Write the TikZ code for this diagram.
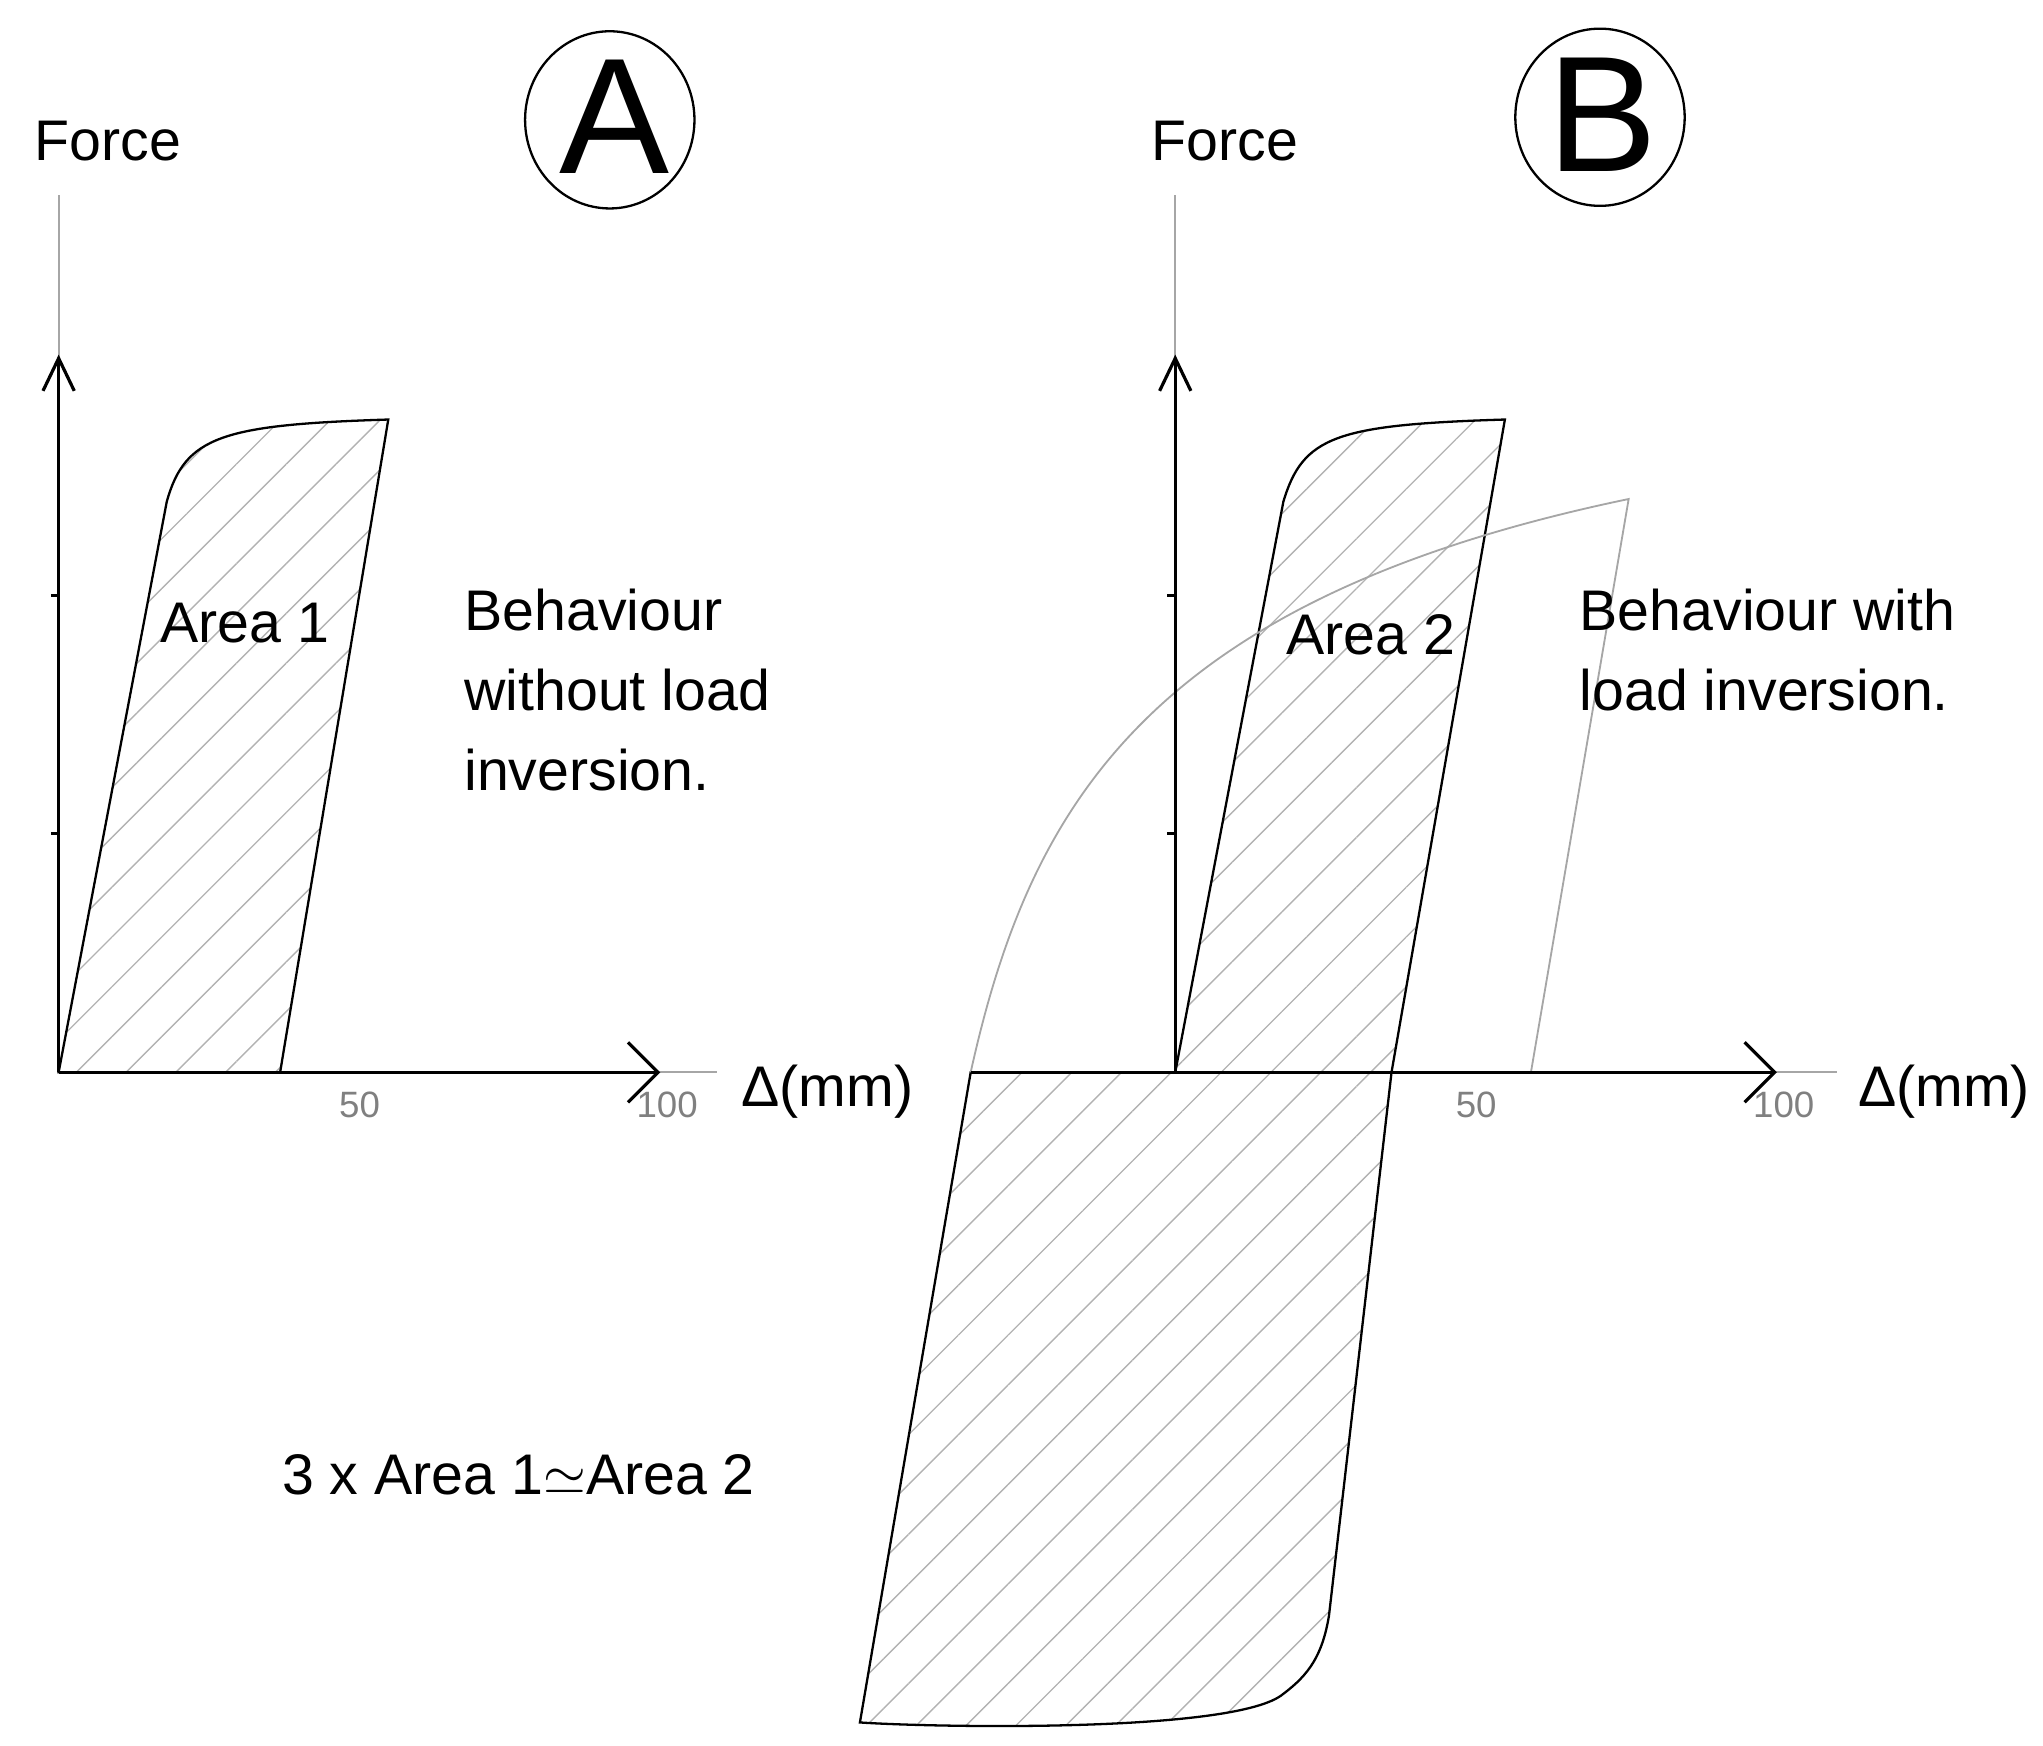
\documentclass[tikz,border=0pt]{standalone}
\usepackage{fontspec}
\setmainfont{Liberation Sans}
\usetikzlibrary{patterns.meta}
\begin{document}
\begin{tikzpicture}[x=0.01cm,y=-0.01cm,
  ax/.style={line width=0.7pt,black},
  thin gray/.style={line width=0.4pt,gray!70},
  hatch/.style={draw=black,line width=0.5pt,pattern={Lines[angle=45,distance=0.27cm,line width=0.3pt]},pattern color=gray!60},
  lbl/.style={font=\fontsize{12.5}{17.4}\selectfont},
  num/.style={font=\fontsize{8}{10}\selectfont,text=gray}]
\useasboundingbox (0,0) rectangle (1568,1340);
% ---------- Panel A ----------
\path[hatch] (45,823) -- (128,385) .. controls (142,335) and (170,326) .. (298,322) -- (215,823) -- cycle;
\draw[thin gray] (45,150) -- (45,275);
\draw[thin gray] (505,823) -- (550,823);
\coordinate (oA) at (45,823);
\coordinate (yA) at (45,275);
\coordinate (xA) at (505,823);
\draw[ax] (oA) -- (yA);
\draw[ax] (oA) -- (xA);
\draw[ax] (33,300) -- (yA) -- (57,300);
\draw[ax] (482,800) -- (xA) -- (482,846);
\draw[ax] (39,457) -- (45,457) (39,640) -- (45,640);
\node[num] (a50) at (276,848) {50};
\node[num] (a100) at (512,848) {100};
\node[lbl] (dA) at (635,838) {Δ(mm)};
\node[lbl] (fA) at (83,108) {Force};
\draw[line width=0.5pt] (468,92) ellipse (65 and 68);
\node[font=\fontsize{36}{38}\selectfont] (A) at (472,90) {A};
\node[lbl] (ar1) at (188,478) {Area 1};
\node[lbl,anchor=north west,align=left] (tA) at (344,440) {Behaviour\\without load\\inversion.};
% ---------- Panel B ----------
\path[hatch] (745,823) -- (660,1322) .. controls (720,1326) and (950,1330) .. (985,1300) .. controls (1005,1285) and (1015,1270) .. (1020,1240) -- (1068,823) -- cycle;
\path[hatch] (902,823) -- (985,385) .. controls (1000,335) and (1025,326) .. (1155,322) -- (1068,823) -- cycle;
\draw[thin gray] (745,823) .. controls (790,620) and (880,460) .. (1250,383) -- (1175,823);
\draw[thin gray] (902,150) -- (902,275);
\draw[thin gray] (1362,823) -- (1410,823);
\coordinate (oB) at (902,823);
\coordinate (yB) at (902,275);
\coordinate (xB) at (1362,823);
\coordinate (lB) at (745,823);
\draw[ax] (oB) -- (yB);
\draw[ax] (lB) -- (xB);
\draw[ax] (890,300) -- (yB) -- (914,300);
\draw[ax] (1339,800) -- (xB) -- (1339,846);
\draw[ax] (896,457) -- (902,457) (896,640) -- (902,640);
\node[num] (b50) at (1133,848) {50};
\node[num] (b100) at (1369,848) {100};
\node[lbl] (dB) at (1492,838) {Δ(mm)};
\node[lbl] (fB) at (940,108) {Force};
\draw[line width=0.5pt] (1228,90) ellipse (65 and 68);
\node[font=\fontsize{36}{38}\selectfont] (B) at (1230,88) {B};
\node[lbl] (ar2) at (1052,487) {Area 2};
\node[lbl,anchor=north west,align=left] (tB) at (1200,440) {Behaviour with\\load inversion.};
\node[lbl] (eq) at (398,1132) {3 x Area 1$\simeq$Area 2};
\end{tikzpicture}
\end{document}
